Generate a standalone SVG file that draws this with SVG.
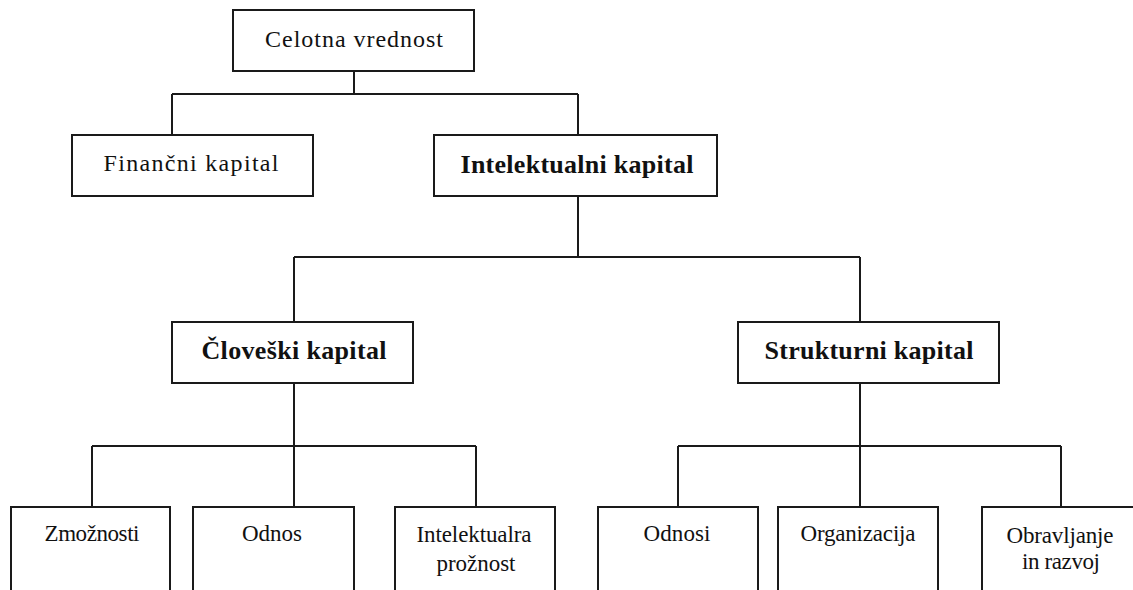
<svg xmlns="http://www.w3.org/2000/svg" width="1133" height="590" viewBox="0 0 1133 590">
<style>
.box{fill:#fff;stroke:#1a1a1a;stroke-width:2}
.ln{fill:none;stroke:#1a1a1a;stroke-width:2}
text{font-family:"Liberation Serif","Times New Roman",serif;font-size:23px;fill:#111;text-anchor:middle}
.t{font-size:24px}
.b{font-weight:bold;font-size:26px}
</style>
<rect width="1133" height="590" fill="#fff"/>
<g id="connectors">
<path class="ln" d="M354 71V94M172 94H578M172 94V135M578 94V135"/>
<path class="ln" d="M578 196V257M294 257H860M294 257V322M860 257V322"/>
<path class="ln" d="M294 383V446M92 446H476M92 446V507M294 446V507M476 446V507"/>
<path class="ln" d="M860 383V446M678 446H1061M678 446V507M860 446V507M1061 446V507"/>
</g>
<g id="n-celotna"><rect class="box" x="233" y="10" width="241" height="61"/><text class="t" x="354" y="47" textLength="178" lengthAdjust="spacing">Celotna vrednost</text></g>
<g id="n-financni"><rect class="box" x="72" y="135" width="241" height="61"/><text class="t" x="191" y="171" textLength="175" lengthAdjust="spacing">Finančni kapital</text></g>
<g id="n-intelektualni"><rect class="box" x="434" y="135" width="283" height="61"/><text class="b" x="577" y="173" textLength="233" lengthAdjust="spacing">Intelektualni kapital</text></g>
<g id="n-cloveski"><rect class="box" x="172" y="322" width="241" height="61"/><text class="b" x="294" y="359" textLength="185" lengthAdjust="spacing">Človeški kapital</text></g>
<g id="n-strukturni"><rect class="box" x="738" y="322" width="261" height="61"/><text class="b" x="869" y="359" textLength="209" lengthAdjust="spacing">Strukturni kapital</text></g>
<g id="n-zmoznosti"><rect class="box" x="11" y="507" width="159" height="95"/><text x="92" y="541" textLength="95" lengthAdjust="spacing">Zmožnosti</text></g>
<g id="n-odnos"><rect class="box" x="193" y="507" width="161" height="95"/><text x="272" y="541" textLength="60" lengthAdjust="spacing">Odnos</text></g>
<g id="n-intelektualra"><rect class="box" x="395" y="507" width="160" height="95"/><text x="474" y="542" textLength="115" lengthAdjust="spacing">Intelektualra</text><text x="476" y="571" textLength="79" lengthAdjust="spacing">prožnost</text></g>
<g id="n-odnosi"><rect class="box" x="598" y="507" width="160" height="95"/><text x="677" y="541" textLength="67" lengthAdjust="spacing">Odnosi</text></g>
<g id="n-organizacija"><rect class="box" x="778" y="507" width="160" height="95"/><text x="858" y="541" textLength="115" lengthAdjust="spacing">Organizacija</text></g>
<g id="n-obravljanje"><rect class="box" x="982" y="507" width="160" height="95"/><text x="1060" y="543" textLength="107" lengthAdjust="spacing">Obravljanje</text><text x="1061" y="569" textLength="78" lengthAdjust="spacing">in razvoj</text></g>
</svg>
